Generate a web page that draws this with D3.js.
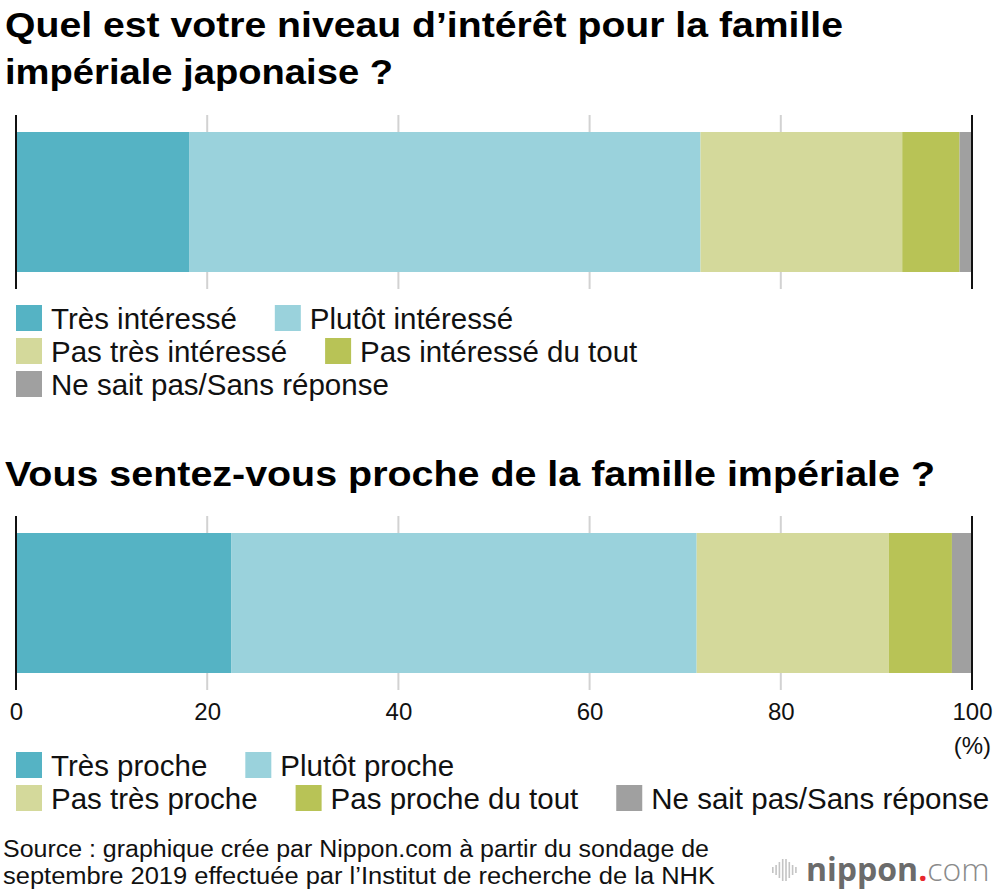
<!DOCTYPE html>
<html>
<head>
<meta charset="utf-8">
<style>
body { margin: 0; background: #fff; }
svg { display: block; font-family: "Liberation Sans", Arial, sans-serif; }
</style>
</head>
<body>
<svg width="1000" height="896"></svg>
<script src="https://cdn.jsdelivr.net/npm/d3@7"></script>
<script>

// --- data ---
var ticks = [0, 20, 40, 60, 80, 100];
var colors = ["#55b3c4", "#9ad2dc", "#d4d99b", "#b8c356", "#a0a0a0"];

var interetKeys = ["Très intéressé", "Plutôt intéressé", "Pas très intéressé", "Pas intéressé du tout", "Ne sait pas/Sans réponse"];
var interetValues = [18.1, 53.5, 21.1, 6.0, 1.3];

var procheKeys = ["Très proche", "Plutôt proche", "Pas très proche", "Pas proche du tout", "Ne sait pas/Sans réponse"];
var procheValues = [22.5, 48.7, 20.1, 6.6, 2.1];

var svg = d3.select("svg");

var x = d3.scaleLinear()
    .domain([0, 100])
    .range([16, 972]);

function fitText(sel, w) {
  sel.attr("textLength", w).attr("lengthAdjust", "spacingAndGlyphs");
}

// titles
svg.append("text").attr("x", 5).attr("y", 37)
    .attr("font-size", 35).attr("font-weight", "bold")
    .text("Quel est votre niveau d\u2019intérêt pour la famille")
    .call(fitText, 838);
svg.append("text").attr("x", 5).attr("y", 84)
    .attr("font-size", 35).attr("font-weight", "bold")
    .text("impériale japonaise ?")
    .call(fitText, 388);
svg.append("text").attr("x", 5).attr("y", 486)
    .attr("font-size", 35).attr("font-weight", "bold")
    .text("Vous sentez-vous proche de la famille impériale ?")
    .call(fitText, 930);

function drawBar(keys, values, top, showAxis) {
  var g = svg.append("g");
  var barH = 140, ext = 17;

  // grid
  g.selectAll("line.grid")
    .data(ticks.slice(1, -1))
    .enter().append("line")
      .attr("class", "grid")
      .attr("x1", function(d) { return x(d); })
      .attr("x2", function(d) { return x(d); })
      .attr("y1", top - ext)
      .attr("y2", top + barH + ext)
      .attr("stroke", "#d2d2d2")
      .attr("stroke-width", 2);

  var row = {};
  keys.forEach(function(k, i) { row[k] = values[i]; });
  var series = d3.stack().keys(keys)([row]);

  g.selectAll("rect")
    .data(series)
    .enter().append("rect")
      .attr("x", function(d) { return x(d[0][0]); })
      .attr("width", function(d) { return x(d[0][1]) - x(d[0][0]); })
      .attr("y", top)
      .attr("height", barH)
      .attr("fill", function(d, i) { return colors[i]; });

  g.selectAll("line.edge")
    .data([0, 100])
    .enter().append("line")
      .attr("class", "edge")
      .attr("x1", function(d) { return x(d); })
      .attr("x2", function(d) { return x(d); })
      .attr("y1", top - ext)
      .attr("y2", top + barH + ext)
      .attr("stroke", "#111")
      .attr("stroke-width", 2);

  if (showAxis) {
    var ax = g.append("g")
        .attr("transform", "translate(0," + (top + barH + ext) + ")")
        .call(d3.axisBottom(x).tickValues(ticks).tickSize(0).tickPadding(13));
    ax.select(".domain").remove();
    ax.selectAll("text")
        .attr("font-size", 24)
        .attr("font-family", "Liberation Sans, Arial, sans-serif")
        .attr("fill", "#111");
    g.append("text")
        .attr("x", 991).attr("y", top + barH + ext + 64)
        .attr("text-anchor", "end")
        .attr("font-size", 24)
        .attr("fill", "#111")
        .text("(%)");
  }
}

drawBar(interetKeys, interetValues, 132, false);
drawBar(procheKeys, procheValues, 533, true);

function drawLegend(keys, rows, top) {
  var g = svg.append("g").attr("font-size", 29.5).attr("fill", "#111");
  rows.forEach(function(r, ri) {
    var cx = 16, cy = top + ri * 33;
    r.forEach(function(ki) {
      g.append("rect")
          .attr("x", cx).attr("y", cy - 13)
          .attr("width", 26).attr("height", 26)
          .attr("fill", colors[ki]);
      var t = g.append("text")
          .attr("x", cx + 35).attr("y", cy + 11)
          .text(keys[ki]);
      cx = cx + 35 + t.node().getComputedTextLength() + 38;
    });
  });
}

drawLegend(interetKeys, [[0, 1], [2, 3], [4]], 318);
drawLegend(procheKeys, [[0, 1], [2, 3, 4]], 765);

// source
svg.append("text").attr("x", 3).attr("y", 857)
    .attr("font-size", 23).attr("fill", "#111")
    .text("Source : graphique crée par Nippon.com à partir du sondage de")
    .call(fitText, 706);
svg.append("text").attr("x", 3).attr("y", 884)
    .attr("font-size", 23).attr("fill", "#111")
    .text("septembre 2019 effectuée par l\u2019Institut de recherche de la NHK")
    .call(fitText, 712);

// logo
var logo = svg.append("g");
var barHs = [6, 10, 16, 22, 22, 16, 10, 6];
logo.selectAll("rect")
  .data(barHs)
  .enter().append("rect")
    .attr("x", function(d, i) { return 772 + i * 3.3; })
    .attr("y", function(d) { return 870 - d / 2; })
    .attr("width", 1.6)
    .attr("height", function(d) { return d; })
    .attr("fill", "#c4c4c4");
var lt = logo.append("text").attr("x", 806).attr("y", 881).attr("font-size", 32)
    .attr("font-family", "Open Sans, sans-serif");
lt.append("tspan").attr("font-weight", "bold").attr("fill", "#6b6b6b").text("nippon");
lt.append("tspan").attr("font-weight", "bold").attr("fill", "#e8262d").text(".");
lt.append("tspan").attr("font-weight", 300).attr("fill", "#8a8a8a").text("com");

</script>
</body>
</html>
